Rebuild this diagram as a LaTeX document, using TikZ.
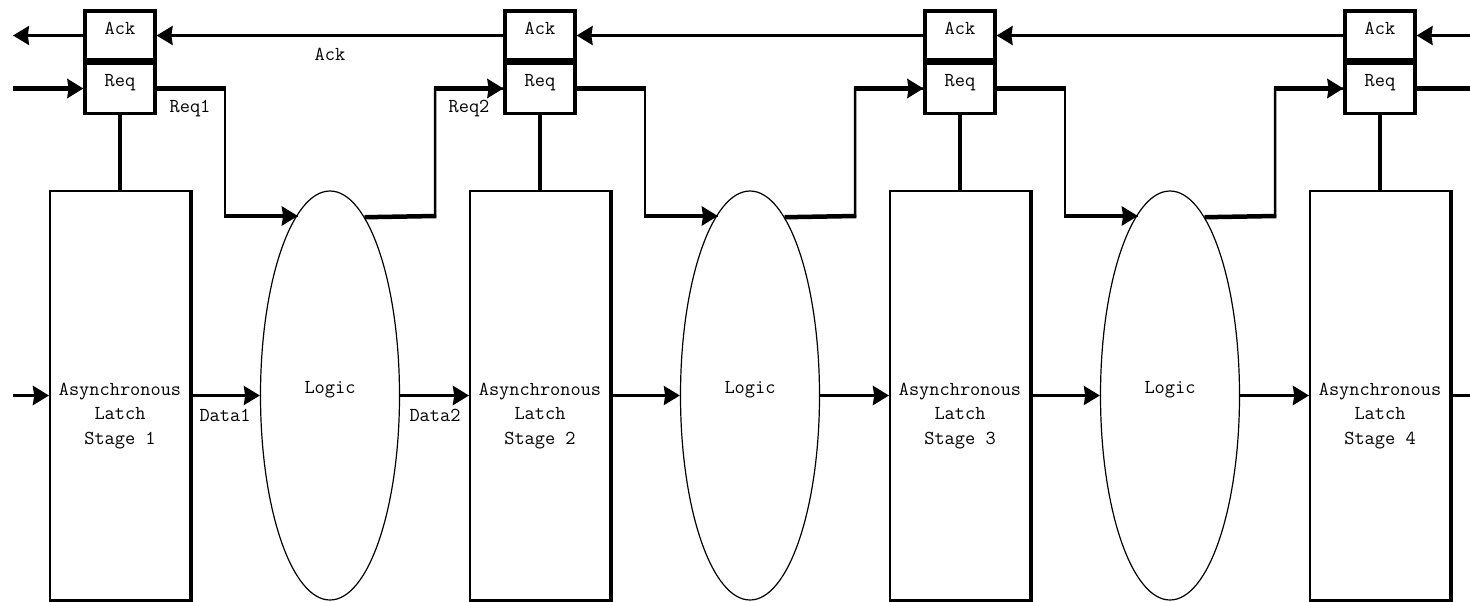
\documentclass[tikz,border=0pt]{standalone}
\usetikzlibrary{arrows.meta,shapes.geometric,calc}
\begin{document}
\begin{tikzpicture}[x=1pt,y=-1pt,
  tip/.style={-{Stealth[length=16pt,width=19pt,inset=1.2pt]}},
  txt/.style={font=\ttfamily\fontsize{19.8}{24.5}\selectfont},
  ctl/.style={draw, line width=3.2pt, minimum width=70pt, inner sep=0pt, txt, text height=12pt},
  ackbox/.style={ctl, minimum height=49pt, text depth=14pt},
  reqbox/.style={ctl, minimum height=50pt, text depth=15pt},
  latch/.style={draw, line width=2pt, minimum width=140pt, minimum height=409pt, inner sep=0pt},
  logic/.style={draw, ellipse, line width=1.2pt, minimum width=139pt, minimum height=409pt, inner sep=0pt, txt, text height=12pt, text depth=17pt},
  lbl/.style={txt, inner sep=0pt, anchor=base},
  ackw/.style={line width=2.8pt},
  reqh/.style={line width=4.5pt},
  reqv/.style={line width=2.5pt},
  dthin/.style={line width=2.4pt},
  dthick/.style={line width=3.8pt},
  stem/.style={line width=3.2pt},
]
\useasboundingbox (0,0) rectangle (1470,602);

% stages
\foreach \i [evaluate=\i as \cx using 120+420*(\i-1)] in {1,2,3,4}{
  \node[ackbox] (ack\i) at (\cx,35.5) {Ack};
  \node[reqbox] (req\i) at (\cx,88.5) {Req};
  \node[latch] (lat\i) at (\cx,395.5) {};
  \draw[line width=3.2pt] (lat\i.north east) -- (lat\i.south east) -- (lat\i.south west);
  \node[lbl, align=center] (lt\i) at (\cx,444) {Asynchronous\\Latch\\Stage \i};
  \draw[stem] (req\i.south) -- (lat\i.north);
}

% logic blocks
\foreach \i [evaluate=\i as \cx using 330+420*(\i-1)] in {1,2,3}{
  \node[logic] (lg\i) at (\cx,395.5) {Logic};
}

% connectors between stages
\foreach \i [evaluate=\i as \cx using 120+420*(\i-1), evaluate=\i as \j using int(\i+1)] in {1,2,3}{
  \coordinate (a\i) at (\cx+105,88.5);
  \coordinate (b\i) at (\cx+105,216);
  \coordinate (c\i) at (\cx+315,216);
  \coordinate (d\i) at (\cx+315,88.5);
  % ack
  \draw[ackw,tip] (ack\j.west) -- (ack\i.east);
  % req into logic
  \draw[reqv] (req\i.east) -- (a\i) -- (b\i) -- (b\i -| lg\i.100.5);
  \draw[reqh] (req\i.east) -- ([xshift=1.25pt]a\i);
  \draw[reqh,tip] ([xshift=-1.25pt]b\i) -- (b\i -| lg\i.100.5);
  % req out of logic
  \draw[reqv] (lg\i.79.5) -- (c\i) -- (d\i) -- (req\j.west);
  \draw[reqh] (lg\i.79.5) -- ([xshift=1.25pt]c\i);
  \draw[reqh,tip] ([xshift=-1.25pt]d\i) -- (req\j.west);
  % data
  \draw[dthin,tip] (lat\i.east) -- (lg\i.west);
  \draw[dthick,tip] (lg\i.east) -- (lat\j.west);
}

% outer ends
\coordinate (ackL) at (13,35.5);
\coordinate (ackR) at (1470,35.5);
\coordinate (reqL) at (13,88.5);
\coordinate (reqR) at (1470,88.5);
\coordinate (dL) at (13,395.5);
\coordinate (dR) at (1470,395.5);
\draw[ackw,tip] (ack1.west) -- (ackL);
\draw[ackw,tip] (ackR) -- (ack4.east);
\draw[reqh,tip] (reqL) -- (req1.west);
\draw[reqh] (req4.east) -- (reqR);
\draw[dthick,tip] (dL) -- (lat1.west);
\draw[dthin] (lat4.east) -- (dR);

% labels
\node[lbl] (lAck) at (330,61) {Ack};
\node[lbl] (lReq1) at (190,112) {Req1};
\node[lbl] (lReq2) at (469,112) {Req2};
\node[lbl] (lD1) at (225,421) {Data1};
\node[lbl] (lD2) at (435,421) {Data2};
\end{tikzpicture}
\end{document}
